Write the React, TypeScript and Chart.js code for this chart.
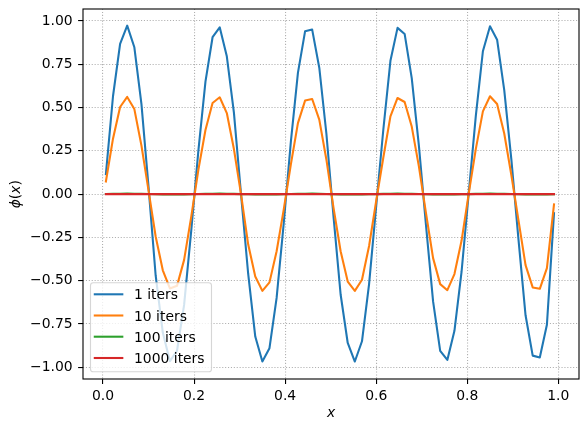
import { useEffect, useRef } from 'react';
import { Chart, registerables } from 'chart.js';

Chart.register(...registerables);

// grid positions (x)
const xValues = [
  0.0063, 0.0219, 0.0375, 0.0531, 0.0688, 0.0844, 0.1000, 0.1156, 0.1313, 0.1469, 0.1625, 0.1781, 0.1938,
  0.2094, 0.2250, 0.2406, 0.2563, 0.2719, 0.2875, 0.3031, 0.3188, 0.3344, 0.3500, 0.3656, 0.3813, 0.3969,
  0.4125, 0.4281, 0.4438, 0.4594, 0.4750, 0.4906, 0.5063, 0.5219, 0.5375, 0.5531, 0.5688, 0.5844, 0.6000,
  0.6156, 0.6313, 0.6469, 0.6625, 0.6781, 0.6938, 0.7094, 0.7250, 0.7406, 0.7563, 0.7719, 0.7875, 0.8031,
  0.8188, 0.8344, 0.8500, 0.8656, 0.8813, 0.8969, 0.9125, 0.9281, 0.9438, 0.9594, 0.9750, 0.9906,
];

const iters1 = [
  0.116, 0.565, 0.867, 0.973, 0.848, 0.52, 0.04, -0.47, -0.80, -0.965, -0.905, -0.64, -0.21,
  0.25, 0.65, 0.906, 0.963, 0.796, 0.47, 0.0, -0.46, -0.823, -0.967, -0.89, -0.60, -0.17,
  0.30, 0.70, 0.94, 0.95, 0.73, 0.35, -0.13, -0.58, -0.86, -0.967, -0.85, -0.52, -0.07,
  0.37, 0.77, 0.96, 0.925, 0.67, 0.28, -0.18, -0.62, -0.905, -0.958, -0.79, -0.45, 0.0,
  0.45, 0.825, 0.969, 0.892, 0.6, 0.2, -0.26, -0.70, -0.933, -0.944, -0.755, -0.11,
];

const iters10 = [
  0.073, 0.32, 0.503, 0.561, 0.491, 0.28, 0.02, -0.245, -0.44, -0.545, -0.53, -0.38, -0.13,
  0.14, 0.37, 0.526, 0.559, 0.468, 0.26, 0.0, -0.29, -0.476, -0.559, -0.51, -0.33, -0.09,
  0.17, 0.41, 0.54, 0.549, 0.43, 0.2, -0.08, -0.33, -0.505, -0.559, -0.495, -0.30, -0.04,
  0.21, 0.449, 0.555, 0.532, 0.39, 0.16, -0.11, -0.37, -0.52, -0.555, -0.462, -0.27, 0.0,
  0.26, 0.478, 0.565, 0.52, 0.35, 0.11, -0.15, -0.41, -0.539, -0.547, -0.428, -0.06,
];

const iters100 = [
  0.0003, 0.0015, 0.0023, 0.0025, 0.0022, 0.0014, 0.0001, -0.0012, -0.0021, -0.0025, -0.0024, -0.0017, -0.0005,
  0.0007, 0.0017, 0.0024, 0.0025, 0.0021, 0.0012, 0.0, -0.0012, -0.0021, -0.0025, -0.0023, -0.0016, -0.0004,
  0.0008, 0.0018, 0.0024, 0.0025, 0.0019, 0.0009, -0.0003, -0.0015, -0.0022, -0.0025, -0.0022, -0.0014, -0.0002,
  0.001, 0.002, 0.0025, 0.0024, 0.0017, 0.0007, -0.0005, -0.0016, -0.0024, -0.0025, -0.0021, -0.0012, 0.0,
  0.0012, 0.0021, 0.0025, 0.0023, 0.0016, 0.0005, -0.0007, -0.0018, -0.0024, -0.0025, -0.002, -0.0003,
];

const iters1000 = [
  0, 0, 0, 0, 0, 0, 0, 0, 0, 0, 0, 0, 0,
  0, 0, 0, 0, 0, 0, 0, 0, 0, 0, 0, 0, 0,
  0, 0, 0, 0, 0, 0, 0, 0, 0, 0, 0, 0, 0,
  0, 0, 0, 0, 0, 0, 0, 0, 0, 0, 0, 0, 0,
  0, 0, 0, 0, 0, 0, 0, 0, 0, 0, 0, 0,
];

const seriesLabels = ['1 iters', '10 iters', '100 iters', '1000 iters'];
const seriesColors = ['#1f77b4', '#ff7f0e', '#2ca02c', '#d62728'];
const xTicks = [0, 0.2, 0.4, 0.6, 0.8, 1.0];
const yTicks = [-1, -0.75, -0.5, -0.25, 0, 0.25, 0.5, 0.75, 1];

const FAMILY = '"DejaVu Sans", sans-serif';
const FS = 13.9;
const minus = (s: string) => s.replace('-', '\u2212');

const extrasPlugin = {
  id: 'extras',
  afterDatasetsDraw(chart: any) {
    const { ctx, chartArea: a } = chart;
    ctx.save();
    // frame (all four spines)
    ctx.strokeStyle = '#000';
    ctx.lineWidth = 1.1;
    ctx.strokeRect(a.left, a.top, a.right - a.left, a.bottom - a.top);

    // legend (lower left)
    const bx = a.left + 7.5;
    const bw = 121;
    const bh = 89;
    const by = a.bottom - 7.3 - bh;
    ctx.beginPath();
    const r = 2.8;
    ctx.moveTo(bx + r, by);
    ctx.lineTo(bx + bw - r, by);
    ctx.arcTo(bx + bw, by, bx + bw, by + r, r);
    ctx.lineTo(bx + bw, by + bh - r);
    ctx.arcTo(bx + bw, by + bh, bx + bw - r, by + bh, r);
    ctx.lineTo(bx + r, by + bh);
    ctx.arcTo(bx, by + bh, bx, by + bh - r, r);
    ctx.lineTo(bx, by + r);
    ctx.arcTo(bx, by, bx + r, by, r);
    ctx.closePath();
    ctx.fillStyle = 'rgba(255,255,255,0.8)';
    ctx.fill();
    ctx.strokeStyle = 'rgba(204,204,204,0.8)';
    ctx.lineWidth = 1.1;
    ctx.stroke();

    const rowY = [11.6, 32.8, 54.0, 75.3];
    ctx.font = `${FS}px ${FAMILY}`;
    ctx.textAlign = 'left';
    ctx.textBaseline = 'alphabetic';
    seriesLabels.forEach((lab, k) => {
      const y = by + rowY[k];
      ctx.beginPath();
      ctx.strokeStyle = seriesColors[k];
      ctx.lineWidth = 2.08;
      ctx.lineCap = 'square';
      ctx.moveTo(bx + 4.3, y);
      ctx.lineTo(bx + 31.8, y);
      ctx.stroke();
      ctx.fillStyle = '#000';
      ctx.fillText(lab, bx + 43.5, y + 5);
    });
    ctx.restore();
  },
  afterDraw(chart: any) {
    const { ctx } = chart;
    ctx.save();
    ctx.fillStyle = '#000';
    ctx.textBaseline = 'alphabetic';
    // x label
    ctx.font = `italic ${FS}px ${FAMILY}`;
    ctx.textAlign = 'center';
    ctx.fillText('x', 331, 417.3);
    // y label: phi(x), rotated
    const parts: [string, boolean][] = [['\u03d5', true], ['(', false], ['x', true], [')', false]];
    const widths = parts.map(([t, it]) => {
      ctx.font = `${it ? 'italic ' : ''}${FS}px ${FAMILY}`;
      return ctx.measureText(t).width;
    });
    const total = widths.reduce((s, w) => s + w, 0);
    ctx.translate(19.9, 194.2);
    ctx.rotate(-Math.PI / 2);
    ctx.textAlign = 'left';
    let cx = -total / 2;
    parts.forEach(([t, it], i) => {
      ctx.font = `${it ? 'italic ' : ''}${FS}px ${FAMILY}`;
      ctx.fillText(t, cx, 0);
      cx += widths[i];
    });
    ctx.restore();
  },
};

export default function App() {
  const ref = useRef<HTMLCanvasElement | null>(null);

  useEffect(() => {
    if (!ref.current) return;
    const all = [iters1, iters10, iters100, iters1000];
    const chart = new Chart(ref.current, {
      type: 'line',
      data: {
        datasets: all.map((s, k) => ({
          label: seriesLabels[k],
          data: xValues.map((x, i) => ({ x, y: s[i] })),
          borderColor: seriesColors[k],
          backgroundColor: seriesColors[k],
          borderWidth: 2.08,
          pointRadius: 0,
          pointHoverRadius: 0,
          tension: 0,
          fill: false,
          order: 4 - k,
          borderJoinStyle: 'round' as const,
          borderCapStyle: 'square' as const,
        })),
      },
      options: {
        animation: false,
        responsive: false,
        devicePixelRatio: 1,
        events: [],
        layout: { padding: { left: 0, right: 9, top: 9, bottom: 0 } },
        plugins: { legend: { display: false }, tooltip: { enabled: false } },
        scales: {
          x: {
            type: 'linear',
            min: -0.044,
            max: 1.0455,
            afterBuildTicks: (s: any) => {
              s.ticks = xTicks.map((v) => ({ value: v }));
            },
            afterFit: (s: any) => {
              s.height = 53;
              s.paddingLeft = 0;
              s.paddingRight = 0;
              s.paddingTop = 0;
              s.paddingBottom = 0;
            },
            ticks: {
              callback: (v: any) => minus(Number(v).toFixed(1)),
              font: { family: FAMILY, size: FS },
              color: '#000',
              padding: 4.5,
              maxRotation: 0,
              autoSkip: false,
            },
            grid: {
              color: '#b0b0b0',
              lineWidth: 1.1,
              tickLength: 4.9,
              tickColor: '#000',
              tickWidth: 1.1,
            },
            border: { display: false, dash: [1.1, 1.8] },
          },
          y: {
            type: 'linear',
            min: -1.068,
            max: 1.069,
            afterBuildTicks: (s: any) => {
              s.ticks = yTicks.map((v) => ({ value: v }));
            },
            afterFit: (s: any) => {
              s.width = 83;
              s.paddingLeft = 0;
              s.paddingRight = 0;
              s.paddingTop = 0;
              s.paddingBottom = 0;
            },
            ticks: {
              callback: (v: any) => minus(Number(v).toFixed(2)),
              font: { family: FAMILY, size: FS },
              color: '#000',
              padding: 5.5,
              autoSkip: false,
            },
            grid: {
              color: '#b0b0b0',
              lineWidth: 1.1,
              tickLength: 4.9,
              tickColor: '#000',
              tickWidth: 1.1,
            },
            border: { display: false, dash: [1.1, 1.8] },
          },
        },
      },
      plugins: [extrasPlugin],
    } as any);
    return () => chart.destroy();
  }, []);

  return (
    <div style={{ position: 'absolute', left: 0, top: 0, width: 588, height: 432, background: '#fff' }}>
      <canvas ref={ref} width={588} height={432} />
    </div>
  );
}
